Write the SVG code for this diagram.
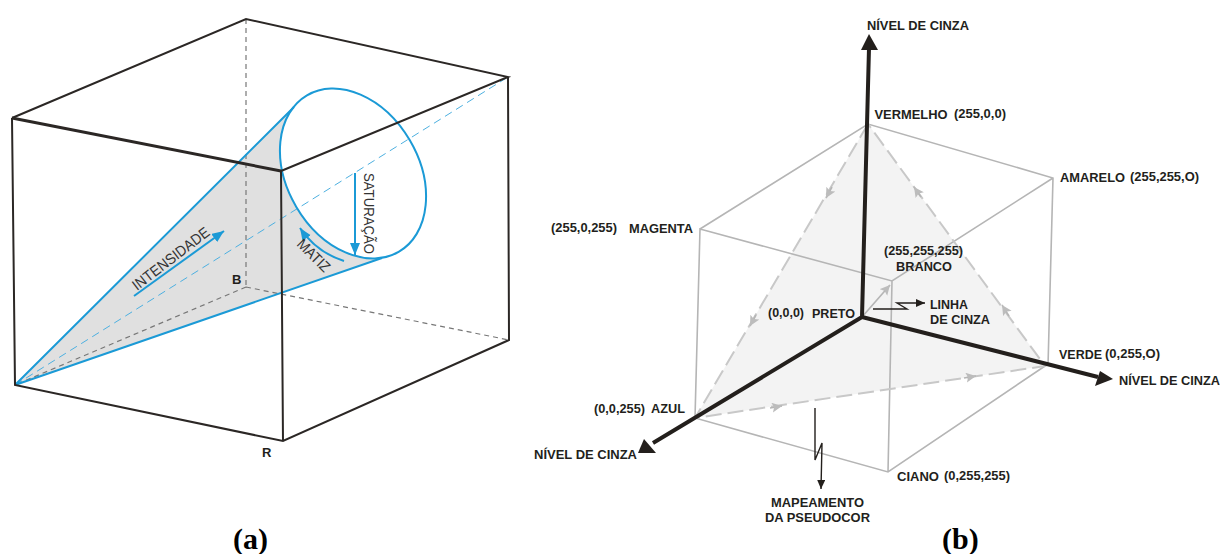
<svg xmlns="http://www.w3.org/2000/svg" width="1220" height="554" viewBox="0 0 1220 554">
<style>
.k{fill:none;stroke:#2b2725;stroke-width:2}
.kd{fill:none;stroke:#777;stroke-width:1.2;stroke-dasharray:5 4}
.b{fill:none;stroke:#1b9ad6;stroke-width:2}
.bd{fill:none;stroke:#4db0e0;stroke-width:1;stroke-dasharray:8 5}
.g{fill:none;stroke:#b5b5b5;stroke-width:1.6}
.gd{fill:none;stroke:#c8c8c8;stroke-width:2;stroke-dasharray:16 6}
.ax{fill:none;stroke:#231f1c;stroke-width:4}
.th{fill:none;stroke:#231f1c;stroke-width:1.4}
.h{fill:#231f1c}
text{font-family:"Liberation Sans",Arial,sans-serif;fill:#231f1c}
.l{font-size:13px;font-weight:700}
.r{font-size:15px;fill:#333}
.cap{font-family:"Liberation Serif","Times New Roman",serif;font-size:30px;font-weight:700;fill:#000}
</style>
<defs>
<marker id="ag" markerUnits="userSpaceOnUse" markerWidth="12" markerHeight="12" refX="10" refY="5" orient="auto"><path d="M0,0L10,5L0,10L2,5Z" fill="#bcbcbc"/></marker>
<marker id="ab" markerUnits="userSpaceOnUse" markerWidth="14" markerHeight="14" refX="12" refY="5" orient="auto"><path d="M0,0L12,5L0,10Z" fill="#1b9ad6"/></marker>
<marker id="ak" markerUnits="userSpaceOnUse" markerWidth="12" markerHeight="10" refX="9" refY="4" orient="auto"><path d="M0,0L9,4L0,8Z" fill="#231f1c"/></marker>
</defs>
<rect width="1220" height="554" fill="#fff"/>
<g id="cone">
<path d="M15,385L294,107A90.7,65.8 59.5 0 0 382,258Z" fill="#e0e0e0"/>
</g>
<g id="cube-rgb-hidden">
<path class="kd" d="M246,19V287M246,287L509,340M246,287L15,385"/>
</g>
<g id="cone-outline">
<path class="bd" d="M15,385L508,77"/>
<path class="b" d="M15,385L294,107M15,385L382,258"/>
<ellipse class="b" cx="353" cy="173.5" rx="90.7" ry="65.8" transform="rotate(59.5 353 173.5)"/>
</g>
<g id="cube-rgb">
<path class="k" d="M12,118L246,19L508,77L281,171M12,118L15,385L283,441L509,340L508,77M281,171L283,441"/>
<path class="k" style="stroke-width:3" d="M12,118L281,171"/>
</g>
<g id="cone-arrows">
<path class="b" marker-end="url(#ab)" d="M134,296L224,231"/>
<path class="b" marker-end="url(#ab)" d="M355,173V255"/>
<path class="b" marker-end="url(#ab)" d="M344,261Q316,252 300,228"/>
</g>
<g id="cone-labels">
<text class="r" transform="translate(137,291) rotate(-37.5)" textLength="93" lengthAdjust="spacingAndGlyphs">INTENSIDADE</text>
<text class="r" transform="translate(364,173) rotate(90)" textLength="81" lengthAdjust="spacingAndGlyphs">SATURAÇÃO</text>
<text class="r" transform="translate(296,245) rotate(45)" textLength="40" lengthAdjust="spacingAndGlyphs">MATIZ</text>
<text class="l" x="232" y="284">B</text>
<text class="l" x="262" y="457">R</text>
<text class="cap" x="233" y="549">(a)</text>
</g>
<g id="triangle">
<path d="M868,124L1045,366L695,418Z" fill="#f3f3f3"/>
</g>
<g id="cube-gray">
<path class="g" d="M700,229L868,124L1053,178L1048,366M1053,178L892,281L700,229L695,418L888,472L1045,366M892,281L888,472"/>
<path class="g" marker-end="url(#ag)" d="M862,317L890,285"/>
</g>
<g id="triangle-edges">
<path class="gd" d="M868,124L695,418L1045,366L868,124"/>
<path class="g" marker-end="url(#ag)" d="M832,187L826,198"/>
<path class="g" marker-end="url(#ag)" d="M756,315L750,326"/>
<path class="g" marker-end="url(#ag)" d="M770,408L782,406"/>
<path class="g" marker-end="url(#ag)" d="M964,378L976,376"/>
<path class="g" marker-end="url(#ag)" d="M921,197L914,187"/>
<path class="g" marker-end="url(#ag)" d="M1009,316L1002,305"/>
</g>
<g id="axes">
<path class="ax" d="M862,317L869,48M862,317L653,443M862,317L1098,377"/>
<path class="h" d="M869,34L878,50L861,50Z"/>
<path class="h" d="M638,453L644,439L656,453Z"/>
<path class="h" d="M1113,379L1100,371L1095,386Z"/>
</g>
<g id="pointers">
<path class="th" marker-end="url(#ak)" d="M873,309H907L897,303H925"/>
<path class="th" marker-end="url(#ak)" d="M815,408V460L822,443L821,489"/>
</g>
<g id="labels-b">
<text class="l" x="867" y="30" textLength="102" lengthAdjust="spacingAndGlyphs">NÍVEL DE CINZA</text>
<text class="l" x="874.5" y="119" textLength="73" lengthAdjust="spacingAndGlyphs">VERMELHO</text>
<text class="l" x="954" y="118" textLength="52" lengthAdjust="spacingAndGlyphs">(255,0,0)</text>
<text class="l" x="1060" y="182" textLength="65" lengthAdjust="spacingAndGlyphs">AMARELO</text>
<text class="l" x="1130" y="181" textLength="69" lengthAdjust="spacingAndGlyphs">(255,255,O)</text>
<text class="l" x="551" y="232" textLength="66" lengthAdjust="spacingAndGlyphs">(255,0,255)</text>
<text class="l" x="629" y="233" textLength="64" lengthAdjust="spacingAndGlyphs">MAGENTA</text>
<text class="l" x="884" y="255" textLength="79" lengthAdjust="spacingAndGlyphs">(255,255,255)</text>
<text class="l" x="896" y="271" textLength="56" lengthAdjust="spacingAndGlyphs">BRANCO</text>
<text class="l" x="768" y="317" textLength="36" lengthAdjust="spacingAndGlyphs">(0,0,0)</text>
<text class="l" x="812" y="318" textLength="43" lengthAdjust="spacingAndGlyphs">PRETO</text>
<text class="l" x="930" y="309" textLength="38" lengthAdjust="spacingAndGlyphs">LINHA</text>
<text class="l" x="930" y="324" textLength="60" lengthAdjust="spacingAndGlyphs">DE CINZA</text>
<text class="l" x="1059" y="359" textLength="43" lengthAdjust="spacingAndGlyphs">VERDE</text>
<text class="l" x="1105" y="358" textLength="55" lengthAdjust="spacingAndGlyphs">(0,255,O)</text>
<text class="l" x="1119" y="385" textLength="101" lengthAdjust="spacingAndGlyphs">NÍVEL DE CINZA</text>
<text class="l" x="594" y="413" textLength="51" lengthAdjust="spacingAndGlyphs">(0,0,255)</text>
<text class="l" x="651" y="413" textLength="34" lengthAdjust="spacingAndGlyphs">AZUL</text>
<text class="l" x="534" y="459" textLength="103" lengthAdjust="spacingAndGlyphs">NÍVEL DE CINZA</text>
<text class="l" x="897" y="481" textLength="42" lengthAdjust="spacingAndGlyphs">CIANO</text>
<text class="l" x="944" y="480" textLength="66" lengthAdjust="spacingAndGlyphs">(0,255,255)</text>
<text class="l" x="771" y="507" textLength="93" lengthAdjust="spacingAndGlyphs">MAPEAMENTO</text>
<text class="l" x="765" y="522" textLength="105" lengthAdjust="spacingAndGlyphs">DA PSEUDOCOR</text>
<text class="cap" x="942" y="549">(b)</text>
</g>
</svg>
